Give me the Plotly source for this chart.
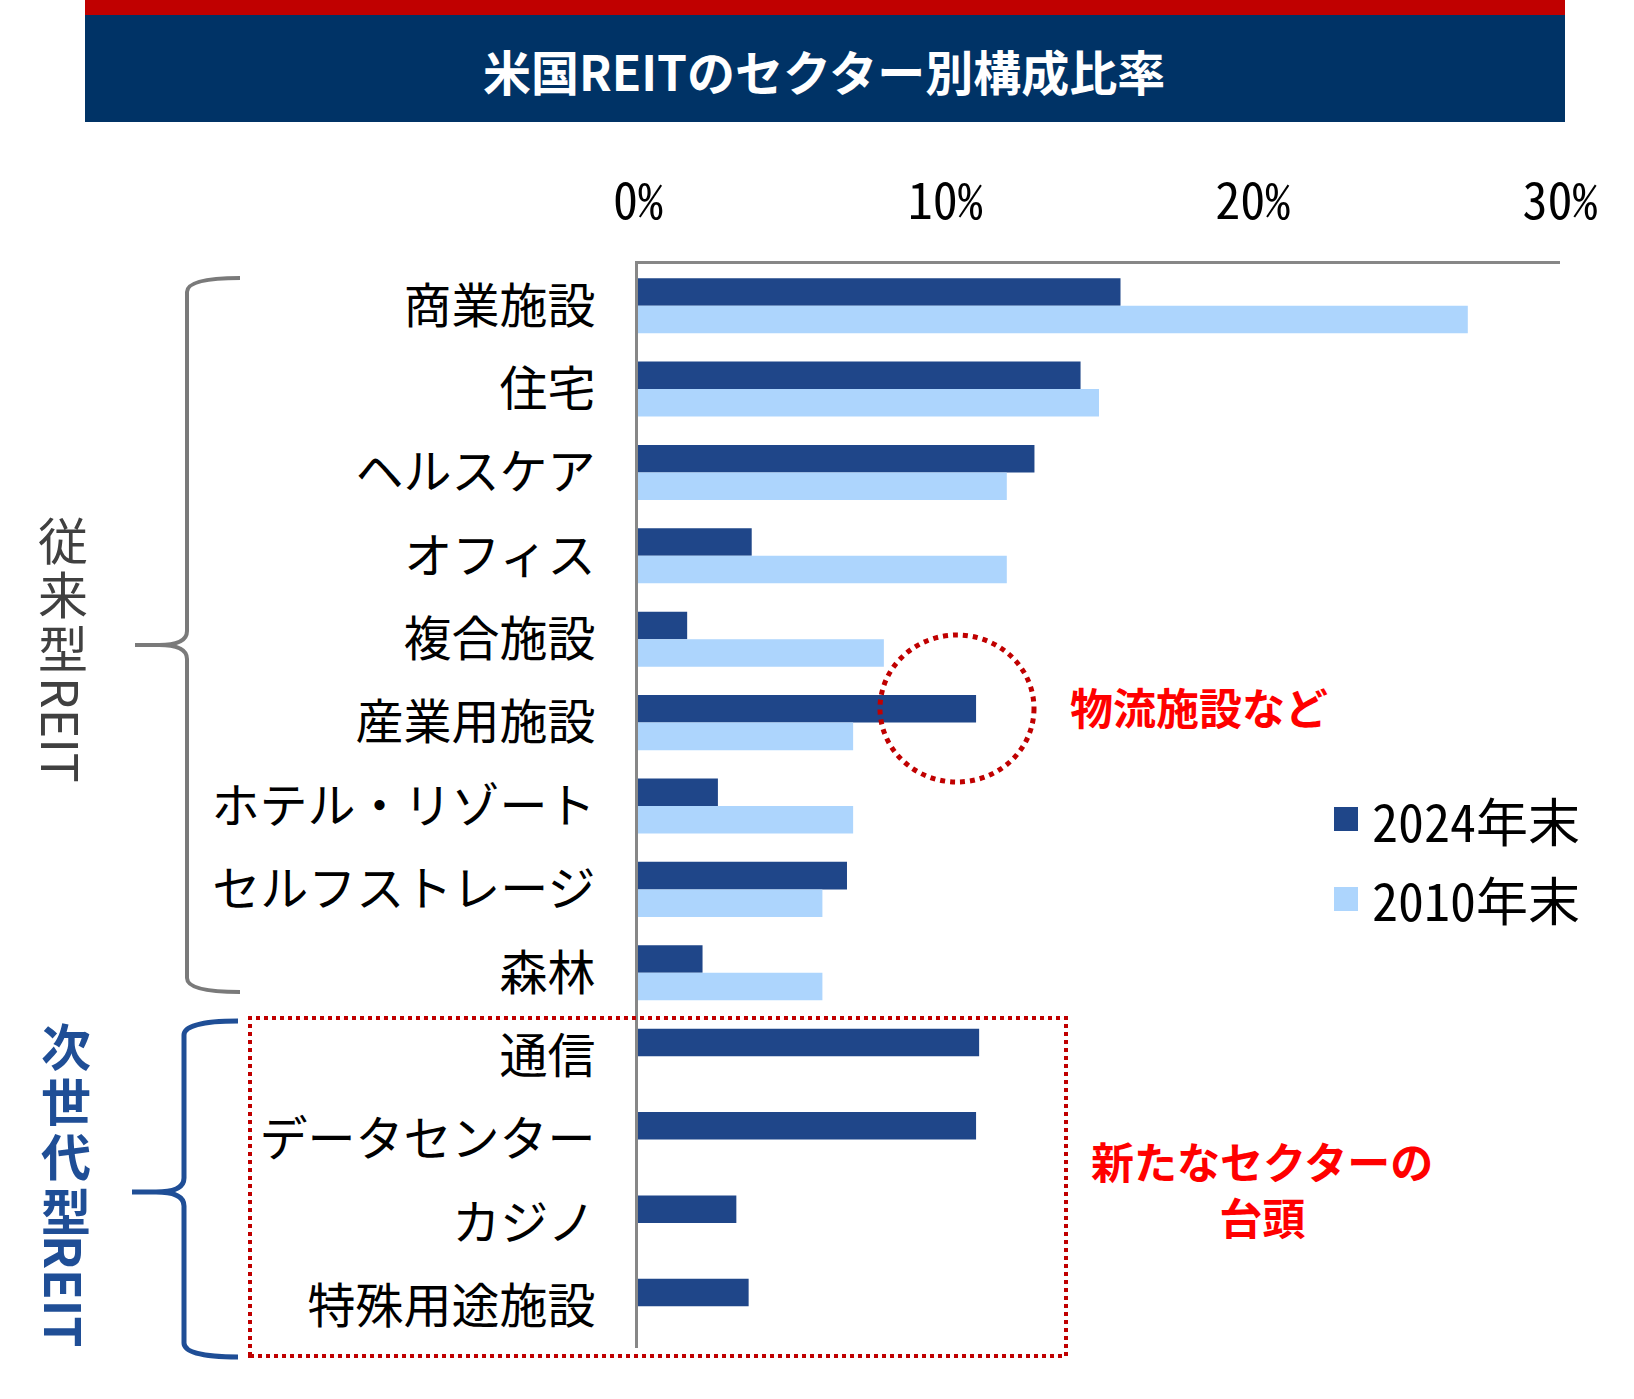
import plotly.graph_objects as go

W, H = 1634, 1399

# data (percent of US REIT market)
categories = ["商業施設", "住宅", "ヘルスケア", "オフィス", "複合施設", "産業用施設",
              "ホテル・リゾート", "セルフストレージ", "森林",
              "通信", "データセンター", "カジノ", "特殊用途施設"]
share_2024 = [15.7, 14.4, 12.9, 3.7, 1.6, 11.0, 2.6, 6.8, 2.1, 11.1, 11.0, 3.2, 3.6]
share_2010 = [27.0, 15.0, 12.0, 12.0, 8.0, 7.0, 7.0, 6.0, 6.0, None, None, None, None]
series_names = ["2024年末", "2010年末"]
x_ticks = [0, 10, 20, 30]
x_tick_text = ["0%", "10%", "20%", "30%"]

title = "米国REITのセクター別構成比率"
group_old = "従来型"
group_new = "次世代型"
note_logistics = "物流施設など"
note_new = "新たなセクターの<br>台頭"

NAVY = "#1F4689"
LIGHT = "#ADD5FD"
JP = "Noto Sans CJK JP"
MONO = "Noto Sans Mono CJK JP, Noto Sans CJK JP"


def px(x):
    return x / W


def py(y):
    return 1 - y / H


def brace(x_end, x_spine, x_tip, y_top, y_mid, y_bot):
    # curly bracket opening to the right, in pixel coordinates
    r = 14
    pts = [
        f"M{px(x_end)},{py(y_top)}",
        f"Q{px(x_spine)},{py(y_top)} {px(x_spine)},{py(y_top + r)}",
        f"L{px(x_spine)},{py(y_mid - r)}",
        f"Q{px(x_spine)},{py(y_mid)} {px(x_spine - 28)},{py(y_mid)}",
        f"L{px(x_tip)},{py(y_mid)}",
        f"M{px(x_spine - 28)},{py(y_mid)}",
        f"Q{px(x_spine)},{py(y_mid)} {px(x_spine)},{py(y_mid + r)}",
        f"L{px(x_spine)},{py(y_bot - r)}",
        f"Q{px(x_spine)},{py(y_bot)} {px(x_end)},{py(y_bot)}",
    ]
    return " ".join(pts)


def note(x, y, text, size, color, xanchor="center", angle=0):
    fig.add_annotation(x=px(x), y=py(y), xref="paper", yref="paper", text=text,
                       showarrow=False, xanchor=xanchor, yanchor="middle", textangle=angle,
                       font=dict(family=JP, size=size, color=color))


fig = go.Figure()
fig.add_trace(go.Bar(y=categories, x=share_2024, name=series_names[0], orientation="h",
                     marker=dict(color=NAVY, line_width=0), showlegend=False))
fig.add_trace(go.Bar(y=categories, x=share_2010, name=series_names[1], orientation="h",
                     marker=dict(color=LIGHT, line_width=0), showlegend=False))

fig.update_layout(
    width=W, height=H, autosize=False,
    margin=dict(l=0, r=0, t=0, b=0, pad=0),
    paper_bgcolor="white", plot_bgcolor="white",
    barmode="group", bargap=0.34, bargroupgap=0,
    font=dict(family=JP, color="black"),
    xaxis=dict(domain=[px(638), px(1560)], range=[0, 30], side="top", automargin=False,
               tickvals=x_ticks, ticktext=x_tick_text, showgrid=False, zeroline=False,
               showline=True, linecolor="#878787", linewidth=3,
               tickfont=dict(family=MONO, size=50), ticklabelstandoff=22),
    yaxis=dict(domain=[py(1348), py(264)], type="category", automargin=False,
               categoryorder="array", categoryarray=categories, autorange="reversed",
               showgrid=False, zeroline=False, showline=True, linecolor="#878787",
               linewidth=3, tickfont=dict(family=JP, size=48), ticklabelstandoff=30),
)

shapes = [
    dict(type="rect", xref="paper", yref="paper", x0=px(85), x1=px(1565), y0=py(15), y1=py(0),
         fillcolor="#C00000", line_width=0, layer="below"),
    dict(type="rect", xref="paper", yref="paper", x0=px(85), x1=px(1565), y0=py(122), y1=py(15),
         fillcolor="#003366", line_width=0, layer="below"),
    dict(type="path", xref="paper", yref="paper", path=brace(240, 187, 135, 278, 645, 992),
         line=dict(color="#7A7A7A", width=4)),
    dict(type="path", xref="paper", yref="paper", path=brace(238, 184, 132, 1021, 1192, 1357),
         line=dict(color="#1F4E96", width=5)),
    dict(type="rect", xref="paper", yref="paper", x0=px(250), x1=px(1066), y0=py(1356), y1=py(1018),
         line=dict(color="#C00000", width=4, dash="dot")),
    dict(type="circle", xref="paper", yref="paper", x0=px(880), x1=px(1034), y0=py(782), y1=py(635),
         line=dict(color="#C00000", width=5, dash="dot")),
]

# legend drawn by hand so the swatches match the original size
for i, (name, col) in enumerate(zip(series_names, [NAVY, LIGHT])):
    yc = 819 + i * 80
    shapes.append(dict(type="rect", xref="paper", yref="paper", x0=px(1334), x1=px(1358),
                       y0=py(yc + 12), y1=py(yc - 12), fillcolor=col, line_width=0))
    fig.add_annotation(x=px(1370), y=py(yc), xref="paper", yref="paper", text=name,
                       showarrow=False, xanchor="left", yanchor="middle",
                       font=dict(family=MONO, size=52, color="black"))

fig.update_layout(shapes=shapes)

note(824, 70, f"<b>{title}</b>", 48, "white")

# vertical group labels
for i, ch in enumerate(group_old):
    note(63, 538 + i * 54, ch, 50, "#404040")
note(63, 730, "REIT", 50, "#404040", angle=90)

for i, ch in enumerate(group_new):
    note(66, 1044 + i * 55, f"<b>{ch}</b>", 50, "#1F4E96")
note(66, 1291, "<b>REIT</b>", 50, "#1F4E96", angle=90)

note(1068, 706, f"<b>{note_logistics}</b>", 43, "#FF0000", xanchor="left")
note(1262, 1188, f"<b>{note_new}</b>", 43, "#FF0000")

fig.write_html("out.html", config={"displayModeBar": False},
               post_script="document.body.style.margin='0';")
